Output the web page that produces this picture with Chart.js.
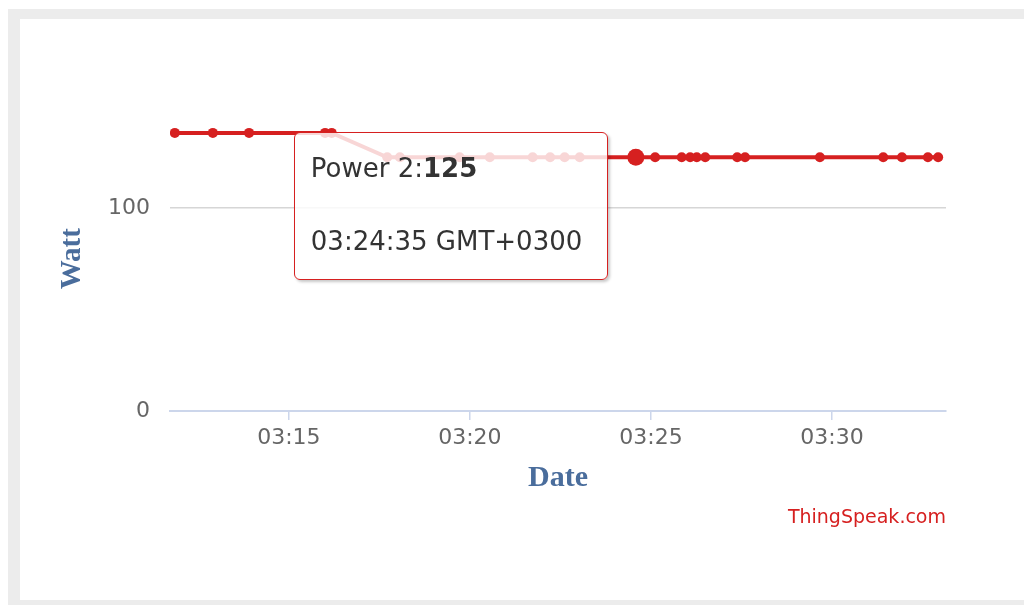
<!DOCTYPE html>
<html>
<head>
<meta charset="utf-8">
<script src="https://cdn.jsdelivr.net/npm/chart.js@4.4.1/dist/chart.umd.min.js"></script>
<style>
  html, body { margin: 0; padding: 0; width: 1024px; height: 605px; overflow: hidden; background: #fff; }
  .frame {
    position: absolute; left: 8px; top: 9px; width: 1100px; height: 581px;
    border-left: 12px solid #ececec; border-top: 10px solid #ececec; border-bottom: 5px solid #ececec;
    background: #fff;
  }
  #chart { position: absolute; left: 0; top: 0; z-index: 1; }
  #tip {
    position: absolute; display: none; z-index: 2; box-sizing: border-box;
    width: 314px; height: 148px; padding: 19px 0 0 16px;
    background: rgba(255, 255, 255, 0.82);
    border: 1.5px solid #d62020; border-radius: 6px;
    box-shadow: 2px 2px 3px rgba(0, 0, 0, 0.22);
    font-family: "DejaVu Sans", sans-serif; font-size: 26px; line-height: 32px; color: #333;
  }
  #tip .l2 { margin-top: 41px; }
  .credits {
    position: absolute; right: 78px; top: 505px; z-index: 2;
    font-family: "DejaVu Sans", sans-serif; font-size: 19px; line-height: 22px; color: #d62020;
  }
</style>
</head>
<body>
<div class="frame"></div>
<canvas id="chart" width="1024" height="605"></canvas>
<div id="tip"></div>
<div class="credits">ThingSpeak.com</div>
<script>
const seriesName = 'Power 2';
const times = ['03:11:51', '03:12:54', '03:13:54', '03:16:00', '03:16:11', '03:17:43', '03:18:04',
  '03:19:43', '03:20:33', '03:21:44', '03:22:13', '03:22:37', '03:23:02', '03:24:35', '03:25:07',
  '03:25:51', '03:26:05', '03:26:16', '03:26:30', '03:27:23', '03:27:36', '03:29:40', '03:31:25',
  '03:31:56', '03:32:39', '03:32:56'];
const power = [137, 137, 137, 137, 137, 125, 125,
  125, 125, 125, 125, 125, 125, 125, 125,
  125, 125, 125, 125, 125, 125, 125, 125,
  125, 125, 125];
const xTicks = ['03:15', '03:20', '03:25', '03:30'];
const yTicks = [0, 100];
const xRange = ['03:11:43', '03:33:09'];
const yMax = 150;
const hoverIndex = 13;

const red = '#d62020';

function toSec(t) {
  const p = t.split(':').map(Number);
  return (p[0] * 60 + p[1]) * 60 + (p[2] || 0);
}
function pad(n) { return (n < 10 ? '0' : '') + n; }

const points = times.map((t, i) => ({ x: toSec(t), y: power[i] }));

function externalTooltip(context) {
  const tt = context.tooltip;
  const el = document.getElementById('tip');
  if (!tt.dataPoints || !tt.dataPoints.length) {
    el.style.display = 'none';
    return;
  }
  const dp = tt.dataPoints[0];
  el.innerHTML = '<div class="l1">' + seriesName + ':<b>' + dp.parsed.y + '</b></div>' +
    '<div class="l2">' + times[dp.dataIndex] + ' GMT+0300</div>';
  el.style.left = (tt.caretX - 342) + 'px';
  el.style.top = (tt.caretY - 25) + 'px';
  el.style.display = 'block';
}

const chart = new Chart(document.getElementById('chart'), {
  type: 'line',
  data: {
    datasets: [{
      label: seriesName,
      data: points,
      borderColor: red,
      backgroundColor: red,
      borderWidth: 4,
      pointRadius: 5,
      pointBorderWidth: 0,
      pointBackgroundColor: red,
      pointHoverRadius: 8.5,
      pointHoverBorderWidth: 0,
      pointHoverBackgroundColor: red,
      tension: 0
    }]
  },
  options: {
    responsive: false,
    animation: false,
    events: [],
    layout: { padding: { left: 0, top: 106.5, right: 78, bottom: 0 } },
    plugins: {
      legend: { display: false },
      tooltip: { enabled: false, external: externalTooltip }
    },
    scales: {
      x: {
        type: 'linear',
        min: toSec(xRange[0]),
        max: toSec(xRange[1]),
        afterFit: (s) => { s.height = 194; },
        afterBuildTicks: (s) => { s.ticks = xTicks.map(t => ({ value: toSec(t) })); },
        grid: { drawOnChartArea: false, drawTicks: true, tickLength: 9, color: '#ccd6eb', lineWidth: 1.5 },
        border: { display: true, color: '#ccd6eb', width: 2 },
        ticks: {
          padding: 5,
          color: '#666',
          font: { family: 'DejaVu Sans', size: 22 },
          maxRotation: 0,
          callback: (v) => pad(Math.floor(v / 3600)) + ':' + pad(Math.floor((v % 3600) / 60))
        },
        title: {
          display: true,
          text: 'Date',
          color: '#4a6d9c',
          font: { family: 'Liberation Serif', size: 30, weight: 'bold' },
          padding: { top: 0, bottom: 109 }
        }
      },
      y: {
        min: 0,
        max: yMax,
        afterFit: (s) => { s.width = 170; },
        afterBuildTicks: (s) => { s.ticks = yTicks.map(v => ({ value: v })); },
        grid: {
          drawTicks: false,
          color: (c) => c.tick && c.tick.value === 0 ? '#ccd6eb' : '#d6d6d6',
          lineWidth: 1.5
        },
        border: { display: false },
        ticks: {
          padding: 20,
          color: '#666',
          font: { family: 'DejaVu Sans', size: 22 }
        },
        title: {
          display: true,
          text: 'Watt',
          color: '#4a6d9c',
          font: { family: 'Liberation Serif', size: 29, weight: 'bold' },
          padding: { top: 55, bottom: 0 }
        }
      }
    }
  }
});

const active = [{ datasetIndex: 0, index: hoverIndex }];
const pt = chart.getDatasetMeta(0).data[hoverIndex];
chart.setActiveElements(active);
chart.tooltip.setActiveElements(active, { x: pt.x, y: pt.y });
chart.update();
</script>
</body>
</html>
